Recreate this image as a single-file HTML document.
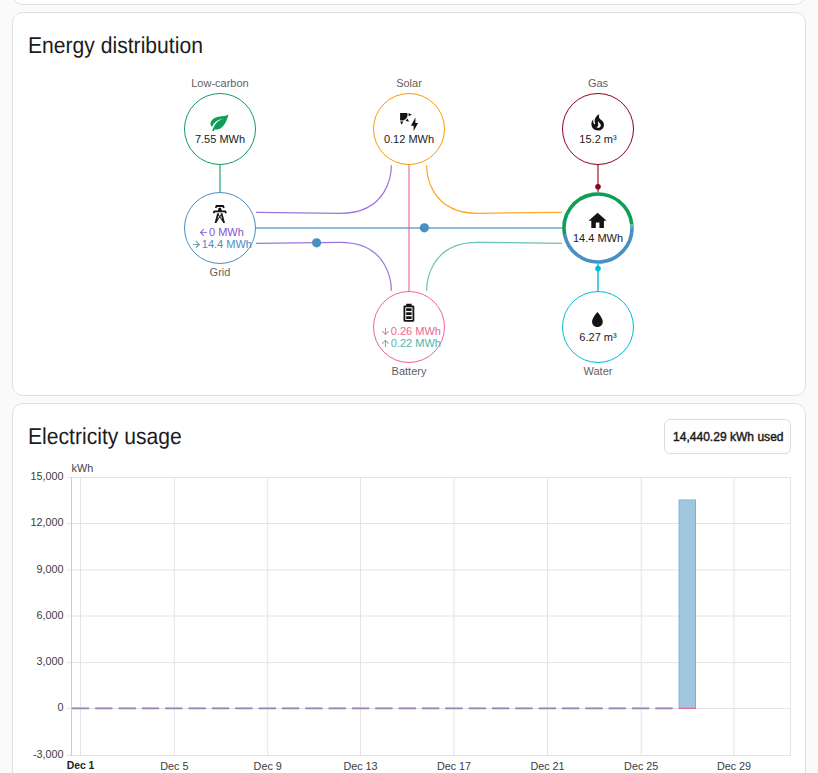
<!DOCTYPE html>
<html>
<head>
<meta charset="utf-8">
<style>
html,body{margin:0;padding:0;}
body{width:818px;height:773px;background:#fafafa;position:relative;overflow:hidden;font-family:"Liberation Sans",sans-serif;color:#212121;}
.card{position:absolute;left:12px;width:794px;box-sizing:border-box;background:#fff;border:1px solid #e0e0e0;border-radius:10.8px;}
.circ{position:absolute;width:72px;height:72px;box-sizing:border-box;border:1.8px solid;border-radius:50%;background:#fff;}
.t{position:absolute;white-space:nowrap;line-height:1;}
.title{font-size:23px;text-rendering:geometricPrecision;color:#1c1c1c;transform:scaleX(0.918);transform-origin:0 0;}
.lbl{font-size:11px;color:#5f5f5f;width:100px;text-align:center;}
.val{font-size:11px;color:#212121;width:100px;text-align:center;}
.row{position:absolute;display:flex;align-items:center;justify-content:center;width:100px;white-space:nowrap;font-size:11px;line-height:1;}
.row svg{width:10.8px;height:10.8px;flex:none;}
.ylab{position:absolute;right:754.5px;font-size:10.8px;color:#3c3c3c;line-height:1;white-space:nowrap;}
.xlab{position:absolute;width:60px;text-align:center;font-size:10.8px;color:#3c3c3c;line-height:1;white-space:nowrap;}
</style>
</head>
<body>
<div class="card" style="top:-40px;height:45px;"></div>
<div class="card" style="top:12px;height:384px;"></div>
<div class="card" style="top:403px;height:420px;"></div>

<div class="t title" style="left:27.6px;top:34.0px;">Energy distribution</div>

<svg style="position:absolute;left:0;top:0" width="818" height="400" viewBox="0 0 818 400">
  <!-- straight lines -->
  <line x1="220" y1="164" x2="220" y2="193" stroke="#0f9d58" stroke-opacity="0.55" stroke-width="2"/>
  <line x1="598" y1="164" x2="598" y2="193" stroke="#8e021b" stroke-opacity="0.55" stroke-width="2"/>
  <line x1="598" y1="263" x2="598" y2="292" stroke="#00bcd4" stroke-opacity="0.7" stroke-width="2"/>
  <line x1="409" y1="164" x2="409" y2="292" stroke="#f06292" stroke-opacity="0.55" stroke-width="2"/>
  <!-- curves -->
  <g fill="none" stroke-width="1.2">
    <path d="M391.4,165.3 C391.4,171.4 389.4,213.3 340.2,213.3 L256,212.3" stroke="#8353d1" stroke-opacity="0.8"/>
    <path d="M426.6,165.3 C426.6,171.4 428.6,213.3 477.8,213.3 L562,212.3" stroke="#ff9800" stroke-opacity="0.85"/>
    <path d="M391.4,290.7 C391.4,284.6 389.4,242.3 340.2,242.3 L256,243.3" stroke="#8353d1" stroke-opacity="0.8"/>
    <path d="M426.6,290.7 C426.6,284.6 428.6,242.3 477.8,242.3 L562,243.3" stroke="#4db6ac" stroke-opacity="0.85"/>
  </g>
  <line x1="255" y1="228" x2="563" y2="228" stroke="#488fc2" stroke-opacity="0.6" stroke-width="2"/>
  <!-- dots -->
  <circle cx="424.4" cy="227.8" r="4.6" fill="#488fc2"/>
  <circle cx="316.6" cy="242.8" r="4.6" fill="#488fc2"/>
  <circle cx="598" cy="186.8" r="2.8" fill="#8e021b"/>
  <circle cx="598" cy="268.6" r="2.8" fill="#00bcd4"/>
  <!-- circles -->
  <circle cx="598" cy="228" r="36" fill="#fff"/>
</svg>
<div class="circ" style="left:184px;top:93px;border-color:#0f9d58;"></div>
<div class="circ" style="left:373px;top:93px;border-color:#ff9800;"></div>
<div class="circ" style="left:562px;top:93px;border-color:#8e021b;"></div>
<div class="circ" style="left:184px;top:192px;border-color:#488fc2;"></div>
<div class="circ" style="left:373px;top:291px;border-color:#f06292;"></div>
<div class="circ" style="left:562px;top:291px;border-color:#00bcd4;"></div>
<svg style="position:absolute;left:0;top:0" width="818" height="400" viewBox="0 0 818 400">
  <!-- home arcs -->
  <g fill="none" stroke-width="3.6">
    <path d="M564.68,234.78 A34,34 0 1 1 631.81,224.45" stroke="#0f9d58"/>
    <path d="M631.81,224.45 A34,34 0 0 1 632,228" stroke="#4db6ac"/>
    <path d="M632,228 A34,34 0 0 1 564.68,234.78" stroke="#488fc2"/>
  </g>
  <!-- icons -->
  <g fill="#141414">
    <!-- leaf -->
    <path transform="translate(208.7,111.5) scale(0.9)" fill="#0f9d58" d="M17,8C8,10 5.9,16.17 3.82,21.34L5.71,22L6.66,19.7C7.14,19.87 7.64,20 8,20C19,20 22,3 22,3C21,5 14,5.25 9,6.25C4,7.25 2,11.5 2,13.5C2,15.5 3.75,17.25 3.75,17.25C7,8 17,8 17,8Z"/>
    <!-- solar power -->
    <path transform="translate(398.3,111.3) scale(0.9)" d="M11.45,2V5.55L15,3.77L11.45,2M10.45,8L8,10.46L11.75,11.71L10.45,8M2,11.45L3.77,15L5.55,11.45H2M10,2H2V10C2.57,10.17 3.17,10.25 3.77,10.25C7.35,10.26 10.26,7.35 10.27,3.75C10.26,3.16 10.17,2.57 10,2M17,22V16H14L19,7V13H22L17,22Z"/>
    <!-- fire -->
    <path transform="translate(586.9,111.5) scale(0.9)" d="M17.66 11.2C17.43 10.9 17.15 10.64 16.89 10.38C16.22 9.78 15.46 9.35 14.82 8.72C13.33 7.26 13 4.85 13.95 3C13 3.23 12.17 3.75 11.46 4.32C8.87 6.4 7.85 10.07 9.07 13.22C9.11 13.32 9.15 13.42 9.15 13.55C9.15 13.77 9 13.970 8.8 14.05C8.57 14.15 8.33 14.09 8.14 13.93C8.08 13.88 8.04 13.83 8 13.76C6.87 12.33 6.69 10.28 7.45 8.64C5.78 10 4.87 12.3 5 14.47C5.06 14.97 5.12 15.47 5.29 15.97C5.43 16.57 5.7 17.17 6 17.7C7.08 19.43 8.95 20.67 10.96 20.92C13.1 21.190 15.39 20.8 17.03 19.32C18.86 17.66 19.5 15 18.56 12.72L18.43 12.46C18.22 12 17.66 11.2 17.66 11.2M14.5 17.5C14.22 17.74 13.76 18 13.4 18.1C12.28 18.5 11.16 17.94 10.5 17.28C11.69 17 12.4 16.12 12.61 15.23C12.78 14.43 12.46 13.77 12.33 13C12.21 12.26 12.230 11.63 12.5 10.94C12.69 11.32 12.89 11.7 13.13 12C13.9 13 15.11 13.44 15.37 14.8C15.41 14.94 15.43 15.08 15.43 15.23C15.46 16.05 15.1 16.95 14.5 17.5H14.5Z"/>
    <!-- transmission tower -->
    <path transform="translate(209.0,203.3) scale(0.9)" d="M8.28,5.45L6.5,4.55L7.76,2H16.23L17.5,4.55L15.72,5.44L15,4H9L8.28,5.45M18.62,8H14.09L13.3,5H10.7L9.91,8H5.38L4.1,10.55L5.89,11.44L6.62,10H17.38L18.1,11.45L19.89,10.56L18.62,8M17.77,22H15.7L15.46,21.1L12,15.9L8.53,21.1L8.3,22H6.23L9.12,11H11.19L10.83,12.35L12,14.1L13.16,12.35L12.81,11H14.88L17.77,22M11.4,15L10.5,13.65L9.32,18.13L11.4,15M14.68,18.12L13.5,13.64L12.6,15L14.68,18.12Z"/>
    <!-- home -->
    <path transform="translate(586.8,210) scale(0.9)" d="M10,20V14H14V20H19V12H22L12,3L2,12H5V20H10Z"/>
    <!-- battery high -->
    <path transform="translate(398.1,301.9) scale(0.9)" d="M16.67,4H15V2H9V4H7.33C6.6,4 6,4.6 6,5.33V20.67C6,21.4 6.6,22 7.33,22H16.67C17.41,22 18,21.41 18,20.67V5.33C18,4.6 17.4,4 16.67,4M16,20H8V6H16V20M9,7V10H15V7H9M9,11.5V14.5H15V11.5H9M9,16V19H15V16H9Z"/>
    <!-- water -->
    <path transform="translate(586.6,309.1) scale(0.9)" d="M12,20A6,6 0 0,1 6,14C6,10 12,3.25 12,3.25C12,3.25 18,10 18,14A6,6 0 0,1 12,20Z"/>
  </g>
</svg>

<!-- labels -->
<div class="t lbl" style="left:170px;top:77.7px;">Low-carbon</div>
<div class="t lbl" style="left:359px;top:77.7px;">Solar</div>
<div class="t lbl" style="left:548px;top:77.7px;">Gas</div>
<div class="t lbl" style="left:170px;top:266.7px;">Grid</div>
<div class="t lbl" style="left:359px;top:365.7px;">Battery</div>
<div class="t lbl" style="left:548px;top:365.7px;">Water</div>
<!-- values -->
<div class="t val" style="left:170px;top:133.7px;">7.55 MWh</div>
<div class="t val" style="left:359px;top:133.7px;">0.12 MWh</div>
<div class="t val" style="left:548px;top:133.7px;">15.2 m³</div>
<div class="t val" style="left:548px;top:232.7px;">14.4 MWh</div>
<div class="t val" style="left:548px;top:331.7px;">6.27 m³</div>

<div class="row" style="left:171px;top:226.5px;height:12px;color:#8353d1;"><svg viewBox="0 0 24 24"><path fill="#8353d1" d="M20,11V13H8L13.5,18.5L12.08,19.92L4.16,12L12.08,4.08L13.5,5.5L8,11H20Z"/></svg><span>0 MWh</span></div>
<div class="row" style="left:171.5px;top:238.5px;height:12px;color:#488fc2;"><svg viewBox="0 0 24 24"><path fill="#488fc2" d="M4,11V13H16L10.5,18.5L11.92,19.92L19.84,12L11.92,4.08L10.5,5.5L16,11H4Z"/></svg><span>14.4 MWh</span></div>
<div class="row" style="left:360.5px;top:325.5px;height:12px;color:#f06292;"><svg viewBox="0 0 24 24"><path fill="#f06292" d="M11,4H13V16L18.5,10.5L19.92,11.92L12,19.84L4.08,11.92L5.5,10.5L11,16V4Z"/></svg><span>0.26 MWh</span></div>
<div class="row" style="left:360.5px;top:337.5px;height:12px;color:#4db6ac;"><svg viewBox="0 0 24 24"><path fill="#4db6ac" d="M13,20H11V8L5.5,13.5L4.08,12.08L12,4.16L19.92,12.08L18.5,13.5L13,8V20Z"/></svg><span>0.22 MWh</span></div>

<!-- Electricity usage -->
<div class="t title" style="left:27.6px;top:425.0px;">Electricity usage</div>
<div style="position:absolute;left:664px;top:419px;width:127px;height:35px;box-sizing:border-box;border:1px solid #dcdcdc;border-radius:6px;"></div>
<div class="t" style="left:673.2px;top:429.7px;font-size:13.4px;font-weight:400;transform:scaleX(0.9);transform-origin:0 0;-webkit-text-stroke:0.45px #1a1a1a;color:#1a1a1a;">14,440.29 kWh used</div>

<div class="t" style="left:71.6px;top:462.9px;font-size:10.8px;color:#444;">kWh</div>

<svg style="position:absolute;left:0;top:460px" width="818" height="313" viewBox="0 460 818 313">
  <g stroke="#e4e4e4" stroke-width="1" fill="none">
    <path d="M67,477.5H791 M67,523.5H791 M67,570H791 M67,616H791 M67,662.6H791 M67,708.5H791 M67,755.5H791"/>
    <path d="M80.5,477V756 M174.3,477V756 M267.7,477V756 M360.5,477V756 M454,477V756 M547.5,477V756 M641.2,477V756 M734,477V756 M790.5,477V756"/>
  </g>
  <path d="M71.5,477V756" stroke="#cccccc" stroke-width="1"/>
  <!-- dashes -->
  <g id="dashes"><rect x="71.80" y="707" width="17.4" height="1" fill="#93d3cb"/><rect x="71.80" y="708" width="17.4" height="1" fill="#9a84b0"/><rect x="71.80" y="709" width="17.4" height="1" fill="#f8d3e0"/><rect x="95.14" y="707" width="17.4" height="1" fill="#93d3cb"/><rect x="95.14" y="708" width="17.4" height="1" fill="#9a84b0"/><rect x="95.14" y="709" width="17.4" height="1" fill="#f8d3e0"/><rect x="118.48" y="707" width="17.4" height="1" fill="#93d3cb"/><rect x="118.48" y="708" width="17.4" height="1" fill="#9a84b0"/><rect x="118.48" y="709" width="17.4" height="1" fill="#f8d3e0"/><rect x="141.82" y="707" width="17.4" height="1" fill="#93d3cb"/><rect x="141.82" y="708" width="17.4" height="1" fill="#9a84b0"/><rect x="141.82" y="709" width="17.4" height="1" fill="#f8d3e0"/><rect x="165.16" y="707" width="17.4" height="1" fill="#93d3cb"/><rect x="165.16" y="708" width="17.4" height="1" fill="#9a84b0"/><rect x="165.16" y="709" width="17.4" height="1" fill="#f8d3e0"/><rect x="188.50" y="707" width="17.4" height="1" fill="#93d3cb"/><rect x="188.50" y="708" width="17.4" height="1" fill="#9a84b0"/><rect x="188.50" y="709" width="17.4" height="1" fill="#f8d3e0"/><rect x="211.84" y="707" width="17.4" height="1" fill="#93d3cb"/><rect x="211.84" y="708" width="17.4" height="1" fill="#9a84b0"/><rect x="211.84" y="709" width="17.4" height="1" fill="#f8d3e0"/><rect x="235.18" y="707" width="17.4" height="1" fill="#93d3cb"/><rect x="235.18" y="708" width="17.4" height="1" fill="#9a84b0"/><rect x="235.18" y="709" width="17.4" height="1" fill="#f8d3e0"/><rect x="258.52" y="707" width="17.4" height="1" fill="#93d3cb"/><rect x="258.52" y="708" width="17.4" height="1" fill="#9a84b0"/><rect x="258.52" y="709" width="17.4" height="1" fill="#f8d3e0"/><rect x="281.86" y="707" width="17.4" height="1" fill="#93d3cb"/><rect x="281.86" y="708" width="17.4" height="1" fill="#9a84b0"/><rect x="281.86" y="709" width="17.4" height="1" fill="#f8d3e0"/><rect x="305.20" y="707" width="17.4" height="1" fill="#93d3cb"/><rect x="305.20" y="708" width="17.4" height="1" fill="#9a84b0"/><rect x="305.20" y="709" width="17.4" height="1" fill="#f8d3e0"/><rect x="328.54" y="707" width="17.4" height="1" fill="#93d3cb"/><rect x="328.54" y="708" width="17.4" height="1" fill="#9a84b0"/><rect x="328.54" y="709" width="17.4" height="1" fill="#f8d3e0"/><rect x="351.88" y="707" width="17.4" height="1" fill="#93d3cb"/><rect x="351.88" y="708" width="17.4" height="1" fill="#9a84b0"/><rect x="351.88" y="709" width="17.4" height="1" fill="#f8d3e0"/><rect x="375.22" y="707" width="17.4" height="1" fill="#93d3cb"/><rect x="375.22" y="708" width="17.4" height="1" fill="#9a84b0"/><rect x="375.22" y="709" width="17.4" height="1" fill="#f8d3e0"/><rect x="398.56" y="707" width="17.4" height="1" fill="#93d3cb"/><rect x="398.56" y="708" width="17.4" height="1" fill="#9a84b0"/><rect x="398.56" y="709" width="17.4" height="1" fill="#f8d3e0"/><rect x="421.90" y="707" width="17.4" height="1" fill="#93d3cb"/><rect x="421.90" y="708" width="17.4" height="1" fill="#9a84b0"/><rect x="421.90" y="709" width="17.4" height="1" fill="#f8d3e0"/><rect x="445.24" y="707" width="17.4" height="1" fill="#93d3cb"/><rect x="445.24" y="708" width="17.4" height="1" fill="#9a84b0"/><rect x="445.24" y="709" width="17.4" height="1" fill="#f8d3e0"/><rect x="468.58" y="707" width="17.4" height="1" fill="#93d3cb"/><rect x="468.58" y="708" width="17.4" height="1" fill="#9a84b0"/><rect x="468.58" y="709" width="17.4" height="1" fill="#f8d3e0"/><rect x="491.92" y="707" width="17.4" height="1" fill="#93d3cb"/><rect x="491.92" y="708" width="17.4" height="1" fill="#9a84b0"/><rect x="491.92" y="709" width="17.4" height="1" fill="#f8d3e0"/><rect x="515.26" y="707" width="17.4" height="1" fill="#93d3cb"/><rect x="515.26" y="708" width="17.4" height="1" fill="#9a84b0"/><rect x="515.26" y="709" width="17.4" height="1" fill="#f8d3e0"/><rect x="538.60" y="707" width="17.4" height="1" fill="#93d3cb"/><rect x="538.60" y="708" width="17.4" height="1" fill="#9a84b0"/><rect x="538.60" y="709" width="17.4" height="1" fill="#f8d3e0"/><rect x="561.94" y="707" width="17.4" height="1" fill="#93d3cb"/><rect x="561.94" y="708" width="17.4" height="1" fill="#9a84b0"/><rect x="561.94" y="709" width="17.4" height="1" fill="#f8d3e0"/><rect x="585.28" y="707" width="17.4" height="1" fill="#93d3cb"/><rect x="585.28" y="708" width="17.4" height="1" fill="#9a84b0"/><rect x="585.28" y="709" width="17.4" height="1" fill="#f8d3e0"/><rect x="608.62" y="707" width="17.4" height="1" fill="#93d3cb"/><rect x="608.62" y="708" width="17.4" height="1" fill="#9a84b0"/><rect x="608.62" y="709" width="17.4" height="1" fill="#f8d3e0"/><rect x="631.96" y="707" width="17.4" height="1" fill="#93d3cb"/><rect x="631.96" y="708" width="17.4" height="1" fill="#9a84b0"/><rect x="631.96" y="709" width="17.4" height="1" fill="#f8d3e0"/><rect x="655.30" y="707" width="17.4" height="1" fill="#93d3cb"/><rect x="655.30" y="708" width="17.4" height="1" fill="#9a84b0"/><rect x="655.30" y="709" width="17.4" height="1" fill="#f8d3e0"/></g>
  <!-- big bar -->
  <rect x="679.1" y="500.2" width="16.4" height="207.8" fill="#a3c6e0" stroke="#7eb0d6" stroke-width="1"/>
  <rect x="678.6" y="499.5" width="17.4" height="1" fill="#8fcfc6"/>
  <rect x="678.6" y="708" width="17.4" height="1" fill="#e06a98"/>
</svg>

<div class="ylab" style="top:470.75px;">15,000</div>
<div class="ylab" style="top:516.75px;">12,000</div>
<div class="ylab" style="top:563.75px;">9,000</div>
<div class="ylab" style="top:609.75px;">6,000</div>
<div class="ylab" style="top:655.75px;">3,000</div>
<div class="ylab" style="top:701.75px;">0</div>
<div class="ylab" style="top:748.75px;">-3,000</div>

<div class="xlab" style="left:50.5px;top:761.3px;font-weight:700;font-size:10.4px;color:#212121;">Dec 1</div>
<div class="xlab" style="left:144.3px;top:761.3px;">Dec 5</div>
<div class="xlab" style="left:237.7px;top:761.3px;">Dec 9</div>
<div class="xlab" style="left:330.5px;top:761.3px;">Dec 13</div>
<div class="xlab" style="left:424.0px;top:761.3px;">Dec 17</div>
<div class="xlab" style="left:517.5px;top:761.3px;">Dec 21</div>
<div class="xlab" style="left:611.2px;top:761.3px;">Dec 25</div>
<div class="xlab" style="left:704.0px;top:761.3px;">Dec 29</div>
</body>
</html>
